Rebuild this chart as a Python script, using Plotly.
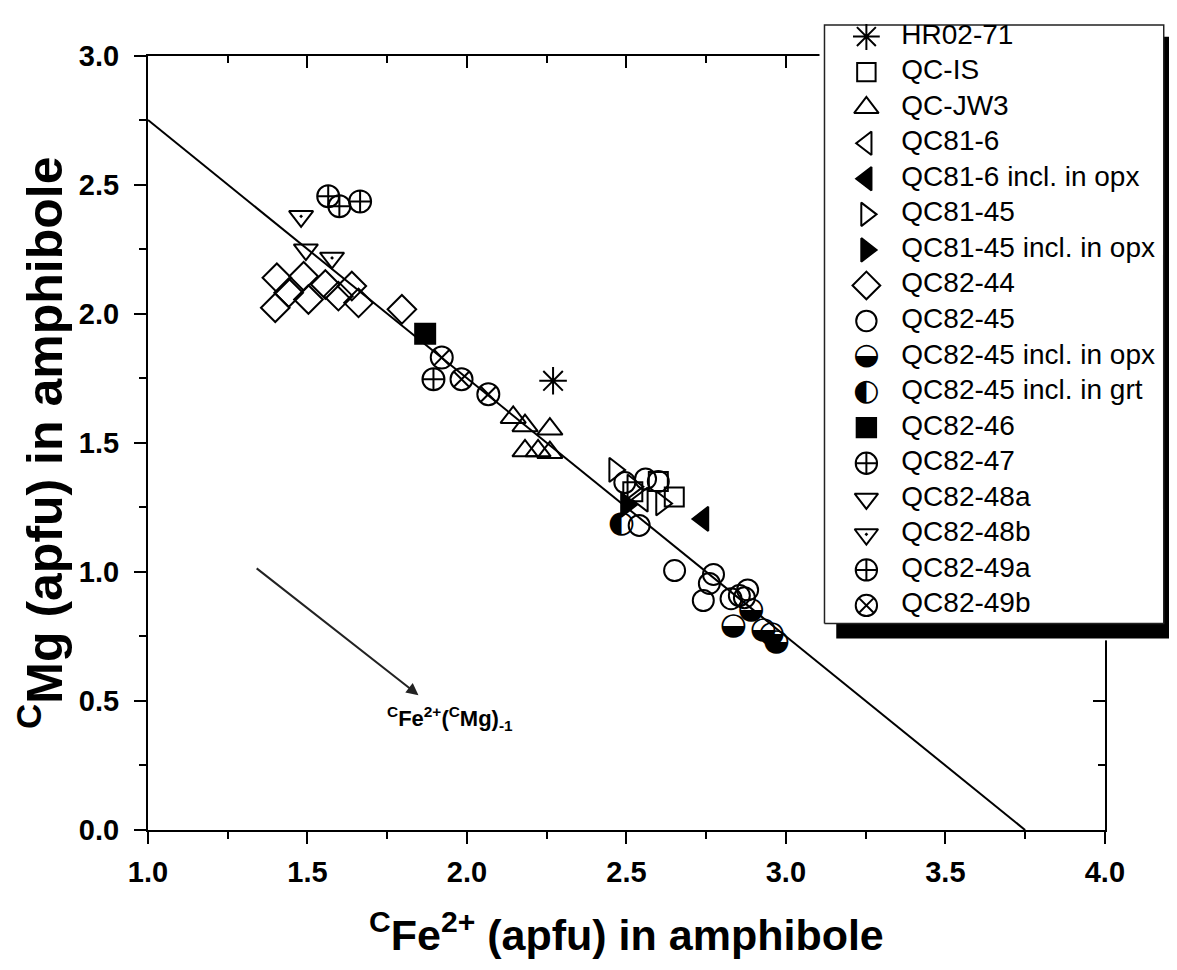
import plotly.graph_objects as go

# ---------------- data ----------------
HR02_71_X = [2.27]
HR02_71_Y = [1.74]

QC_IS_X = [2.52, 2.60, 2.65]
QC_IS_Y = [1.31, 1.35, 1.29]

QC_JW3_X = [2.145, 2.182, 2.260, 2.182, 2.223, 2.260]
QC_JW3_Y = [1.598, 1.566, 1.553, 1.469, 1.469, 1.462]

QC81_6_X = [2.55]
QC81_6_Y = [1.28]

QC81_6_OPX_X = [2.74]
QC81_6_OPX_Y = [1.205]

QC81_45_X = [2.463, 2.52, 2.61]
QC81_45_Y = [1.395, 1.33, 1.265]

QC81_45_OPX_X = [2.50]
QC81_45_OPX_Y = [1.26]

QC82_44_X = [1.404, 1.488, 1.399, 1.441, 1.503, 1.556, 1.597, 1.639, 1.660, 1.796]
QC82_44_Y = [2.139, 2.145, 2.023, 2.081, 2.055, 2.113, 2.068, 2.107, 2.042, 2.017]

QC82_45_X = [2.495, 2.56, 2.60, 2.54, 2.651, 2.773, 2.76, 2.741, 2.828, 2.854, 2.88, 2.87]
QC82_45_Y = [1.346, 1.36, 1.35, 1.18, 1.005, 0.99, 0.955, 0.889, 0.896, 0.908, 0.93, 0.90]

QC82_45_OPX_X = [2.835, 2.891, 2.929, 2.955, 2.97]
QC82_45_OPX_Y = [0.789, 0.85, 0.773, 0.76, 0.728]

QC82_45_GRT_X = [2.484]
QC82_45_GRT_Y = [1.183]

QC82_46_X = [1.869]
QC82_46_Y = [1.922]

QC82_47_X = [1.565, 1.600, 1.665]
QC82_47_Y = [2.455, 2.416, 2.435]

QC82_48A_X = [1.495]
QC82_48A_Y = [2.248]

QC82_48B_X = [1.480, 1.577]
QC82_48B_Y = [2.377, 2.216]

QC82_49A_X = [1.895]
QC82_49A_Y = [1.746]

QC82_49B_X = [1.921, 1.983, 2.067]
QC82_49B_Y = [1.830, 1.746, 1.688]

LINE_X = [1.0, 3.75]
LINE_Y = [2.75, 0.0]

ARROW_START = (1.336, 1.018)
ARROW_END = (1.848, 0.522)
ARROW_LABEL_POS = (1.947, 0.43)

X_TICKS = [1.0, 1.5, 2.0, 2.5, 3.0, 3.5, 4.0]
Y_TICKS = [0.0, 0.5, 1.0, 1.5, 2.0, 2.5, 3.0]

# series: name, x, y, kind, symbol/glyph
SERIES = [
    ("HR02-71", HR02_71_X, HR02_71_Y, "m", "asterisk-open"),
    ("QC-IS", QC_IS_X, QC_IS_Y, "m", "square-open"),
    ("QC-JW3", QC_JW3_X, QC_JW3_Y, "m", "triangle-up-open"),
    ("QC81-6", QC81_6_X, QC81_6_Y, "m", "triangle-left-open"),
    ("QC81-6 incl. in opx", QC81_6_OPX_X, QC81_6_OPX_Y, "m", "triangle-left"),
    ("QC81-45", QC81_45_X, QC81_45_Y, "m", "triangle-right-open"),
    ("QC81-45 incl. in opx", QC81_45_OPX_X, QC81_45_OPX_Y, "m", "triangle-right"),
    ("QC82-44", QC82_44_X, QC82_44_Y, "m", "diamond-open"),
    ("QC82-45", QC82_45_X, QC82_45_Y, "m", "circle-open"),
    ("QC82-45 incl. in opx", QC82_45_OPX_X, QC82_45_OPX_Y, "t", "\u25D2"),
    ("QC82-45 incl. in grt", QC82_45_GRT_X, QC82_45_GRT_Y, "t", "\u25D0"),
    ("QC82-46", QC82_46_X, QC82_46_Y, "m", "square"),
    ("QC82-47", QC82_47_X, QC82_47_Y, "m", "circle-cross-open"),
    ("QC82-48a", QC82_48A_X, QC82_48A_Y, "m", "triangle-down-open"),
    ("QC82-48b", QC82_48B_X, QC82_48B_Y, "m", "triangle-down-open-dot"),
    ("QC82-49a", QC82_49A_X, QC82_49A_Y, "m", "circle-cross-open"),
    ("QC82-49b", QC82_49B_X, QC82_49B_Y, "m", "circle-x-open"),
]

SIZES = {
    "asterisk-open": 23, "square-open": 19, "triangle-up-open": 22,
    "triangle-left-open": 21, "triangle-left": 21, "triangle-right-open": 21,
    "triangle-right": 21, "diamond-open": 22, "circle-open": 21, "square": 20,
    "circle-cross-open": 22, "triangle-down-open": 21,
    "triangle-down-open-dot": 21, "circle-x-open": 22,
}
GLYPH_SIZE = 31

fig = go.Figure()

# regression line
fig.add_trace(go.Scatter(x=LINE_X, y=LINE_Y, mode="lines",
                         line=dict(color="black", width=2), hoverinfo="skip"))


def add_series(name, xs, ys, kind, sym, xaxis="x", yaxis="y", scale=1.0):
    if kind == "m":
        fig.add_trace(go.Scatter(
            x=xs, y=ys, mode="markers", name=name, xaxis=xaxis, yaxis=yaxis,
            marker=dict(symbol=sym, size=SIZES[sym] * scale, color="black",
                        line=dict(color="black", width=2))))
    else:
        fig.add_trace(go.Scatter(
            x=xs, y=ys, mode="text", name=name, xaxis=xaxis, yaxis=yaxis,
            text=[sym] * len(xs), textposition="middle center",
            textfont=dict(family="DejaVu Sans", size=GLYPH_SIZE * scale, color="black")))


for s in SERIES:
    add_series(*s)

# dummy trace for secondary (mirror) axes
fig.add_trace(go.Scatter(x=[None], y=[None], xaxis="x2", yaxis="y2", mode="markers",
                         hoverinfo="skip"))

# ---------------- geometry ----------------
# screen-space targets (px) converted to figure px (empirical page offset/scale)
SX, BX = 0.983, 9.5
SY, BY = 0.982, 22.4


def fx(px):
    return (px - BX) / SX


def fy(py):
    return (py - BY) / SY


W, H = round(fx(1177)), round(fy(970))
AX_L, AX_R, AX_T, AX_B = fx(147), fx(1106), fy(54), fy(830)
ML, MB = AX_L, H - AX_B
PW, PH = W - ML, H - MB
x_dom = [0, (AX_R - ML) / PW]
y_dom = [0, (AX_B - AX_T) / PH]

# ---------------- manual legend (on its own hidden axes) ----------------
LG_L = fx(820)                  # legend axes left edge (figure px)
LG_B = fy(640)                  # legend axes bottom edge (figure px)
LEG_W = W - LG_L
LEG_H = LG_B                    # legend axes reach the figure top
box_l, box_r = fx(825) - LG_L, fx(1165) - LG_L
box_b, box_t = LG_B - fy(623), LEG_H - 1
sh_l, sh_b, sh_t = box_l + 12, LG_B - fy(638), box_t - 12
BOX = ([box_l, box_r, box_r, box_l, box_l], [box_b, box_b, box_t, box_t, box_b])
SHADOW = ([sh_l, LEG_W + 30, LEG_W + 30, sh_l, sh_l], [sh_b, sh_b, sh_t, sh_t, sh_b])
fig.add_trace(go.Scatter(x=SHADOW[0], y=SHADOW[1], xaxis="x3", yaxis="y3", mode="lines",
                         fill="toself", fillcolor="black", line=dict(color="black", width=0),
                         hoverinfo="skip"))
fig.add_trace(go.Scatter(x=BOX[0], y=BOX[1], xaxis="x3", yaxis="y3", mode="lines",
                         fill="toself", fillcolor="white", line=dict(color="#222", width=1.5),
                         hoverinfo="skip"))
SYM_X = fx(867) - LG_L
TXT_X = fx(902) - LG_L
row_top, row_bot = 35, 605       # screen y of first / last legend rows
n = len(SERIES)
for i, (name, xs, ys, kind, sym) in enumerate(SERIES):
    row_y = LG_B - fy(row_top + (row_bot - row_top) * i / (n - 1))
    add_series(name, [SYM_X], [row_y], kind, sym, "x3", "y3", 0.97)
    fig.add_trace(go.Scatter(x=[TXT_X], y=[row_y], xaxis="x3", yaxis="y3", mode="text",
                             text=[name], textposition="middle right",
                             textfont=dict(family="Liberation Sans, Arial", size=28,
                                           color="black"),
                             hoverinfo="skip"))

# ---------------- layout ----------------
tickfont = dict(family="Liberation Sans, Arial", size=29, color="black", weight="bold")
axis_common = dict(showline=True, linewidth=2, linecolor="black", showgrid=False,
                   zeroline=False, tickwidth=2, tickcolor="black", ticklen=12)

fig.update_layout(
    width=W, height=H, margin=dict(l=ML, r=0, t=0, b=MB),
    paper_bgcolor="white", plot_bgcolor="white", showlegend=False,
    xaxis=dict(domain=x_dom, range=[1, 4], tickvals=X_TICKS, ticks="outside",
               tickformat=".1f", tickfont=tickfont, anchor="y", ticklabelstandoff=3,
               minor=dict(dtick=0.25, tick0=1, ticks="outside", ticklen=7, tickwidth=2,
                          tickcolor="black"),
               title=dict(text="<sup>C</sup>Fe<sup>2+</sup> (apfu) in amphibole",
                          font=dict(family="Liberation Sans, Arial", size=43, color="black",
                                    weight="bold"), standoff=33),
               **axis_common),
    yaxis=dict(domain=y_dom, range=[0, 3], tickvals=Y_TICKS, ticks="outside",
               tickformat=".1f", tickfont=tickfont, anchor="x", ticklabelstandoff=9,
               minor=dict(dtick=0.25, tick0=0, ticks="outside", ticklen=7, tickwidth=2,
                          tickcolor="black"),
               title=dict(text="<sup>C</sup>Mg (apfu) in amphibole",
                          font=dict(family="Liberation Sans, Arial", size=50, color="black",
                                    weight="bold"), standoff=0),
               **axis_common),
    xaxis2=dict(overlaying="x", side="top", anchor="y2", range=[1, 4], tickvals=X_TICKS,
                ticks="inside", showticklabels=False,
                minor=dict(dtick=0.25, tick0=1, ticks="inside", ticklen=7, tickwidth=2,
                           tickcolor="black"),
                **axis_common),
    yaxis2=dict(overlaying="y", side="right", anchor="x2", range=[0, 3], tickvals=Y_TICKS,
                ticks="inside", showticklabels=False,
                minor=dict(dtick=0.25, tick0=0, ticks="inside", ticklen=7, tickwidth=2,
                           tickcolor="black"),
                **axis_common),
    xaxis3=dict(domain=[(LG_L - ML) / PW, 1.0], range=[0, LEG_W], visible=False,
                anchor="y3", fixedrange=True),
    yaxis3=dict(domain=[(H - LG_B - MB) / PH, 1.0], range=[0, LEG_H], visible=False,
                anchor="x3", fixedrange=True),
)

fig.add_annotation(x=ARROW_END[0], y=ARROW_END[1], ax=ARROW_START[0], ay=ARROW_START[1],
                   xref="x", yref="y", axref="x", ayref="y", text="", showarrow=True,
                   arrowhead=2, arrowsize=1.2, arrowwidth=2, arrowcolor="#222")
fig.add_annotation(x=ARROW_LABEL_POS[0], y=ARROW_LABEL_POS[1], xref="x", yref="y",
                   text="<b><sup>C</sup>Fe<sup>2+</sup>(<sup>C</sup>Mg)<sub>-1</sub></b>",
                   showarrow=False,
                   font=dict(family="Liberation Sans, Arial", size=22, color="black"))

fig.write_html("out.html")
